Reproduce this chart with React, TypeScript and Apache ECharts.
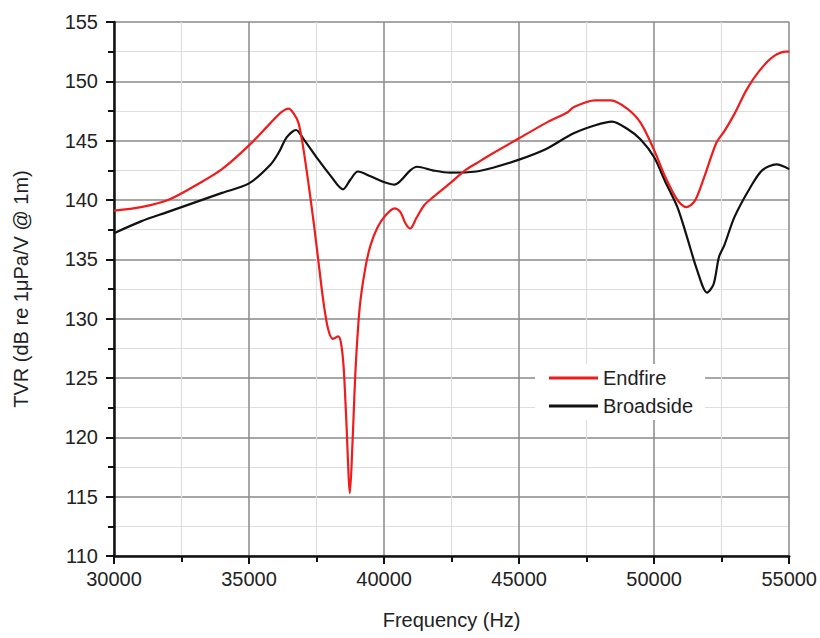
import React, { useEffect, useRef } from "react";
import * as echarts from "echarts";

const endfireFreq = [30000, 31000, 32000, 33000, 34000, 35000, 35800, 36200, 36465, 36650, 36830, 37000, 37200, 37400, 37560, 37750, 37930, 38100, 38300, 38400, 38500, 38600, 38736, 38830, 38950, 39100, 39300, 39500, 39760, 40050, 40385, 40600, 40800, 40970, 41200, 41500, 41850, 42436, 43000, 43425, 44000, 45000, 46000, 46800, 47000, 47800, 48400, 49000, 49500, 50000, 50400, 50860, 51190, 51500, 51850, 52300, 52600, 52985, 53425, 53900, 54420, 54900, 55000];
const endfireTVR = [139.1, 139.4, 140.0, 141.2, 142.6, 144.6, 146.5, 147.4, 147.7, 147.3, 146.5, 144.5, 141.4, 138.0, 135.0, 131.5, 129.1, 128.3, 128.5, 128.0, 126.0, 121.5, 115.3, 119.5, 126.0, 131.0, 134.2, 136.2, 137.7, 138.7, 139.3, 139.0, 138.0, 137.6, 138.5, 139.6, 140.3, 141.4, 142.5, 143.1, 143.9, 145.2, 146.5, 147.4, 147.8, 148.4, 148.4, 147.7, 146.5, 144.2, 142.0, 140.0, 139.4, 139.9, 141.9, 144.8, 145.8, 147.3, 149.3, 150.9, 152.1, 152.5, 152.5];

const broadsideFreq = [30000, 31000, 32000, 33000, 34000, 35000, 35800, 36100, 36400, 36740, 37000, 37564, 38000, 38480, 38750, 39030, 39500, 40018, 40385, 40600, 40970, 41227, 41800, 42436, 43425, 44000, 45000, 46000, 47000, 47820, 48443, 49000, 49500, 50000, 50400, 50860, 51200, 51590, 51960, 52200, 52400, 52600, 52980, 53570, 54000, 54530, 55000];
const broadsideTVR = [137.2, 138.2, 139.0, 139.8, 140.6, 141.4, 143.0, 144.0, 145.3, 145.9, 145.2, 143.4, 142.1, 140.9, 141.7, 142.4, 142.0, 141.5, 141.3, 141.6, 142.5, 142.8, 142.5, 142.3, 142.4, 142.7, 143.4, 144.3, 145.6, 146.3, 146.6, 146.0, 145.1, 143.6, 141.6, 139.4, 137.0, 134.1, 132.2, 132.9, 135.2, 136.2, 138.6, 141.1, 142.5, 143.0, 142.6];

const FONT = "Liberation Sans, Arial, sans-serif";

export default function App() {
  const ref = useRef<HTMLDivElement>(null);
  useEffect(() => {
    if (!ref.current) return;
    const chart = echarts.init(ref.current, undefined, { renderer: "svg" });
    const pair = (xs: number[], ys: number[]) => xs.map((x, i) => [x, ys[i]]);
    chart.setOption({
      animation: false,
      backgroundColor: "#ffffff",
      textStyle: { fontFamily: FONT },
      grid: { left: 114, right: 23, top: 22, bottom: 82 },
      legend: {
        left: 535,
        top: 364,
        orient: "vertical",
        icon: "rect",
        itemWidth: 49,
        itemHeight: 3,
        itemGap: 8,
        textStyle: { fontSize: 20, color: "#222", fontFamily: FONT },
        data: ["Endfire", "Broadside"],
        backgroundColor: "#ffffff",
        padding: [4, 12, 4, 14],
      },
      xAxis: {
        type: "value",
        min: 30000,
        max: 55000,
        interval: 5000,
        name: "Frequency (Hz)",
        nameLocation: "middle",
        nameGap: 54,
        nameTextStyle: { fontSize: 20, color: "#222", fontFamily: FONT },
        axisLine: { show: true, lineStyle: { color: "#111", width: 2.5 } },
        axisTick: { show: true, inside: false, length: 8, lineStyle: { color: "#111", width: 2 } },
        minorTick: { show: true, splitNumber: 2, length: 6, lineStyle: { color: "#111", width: 2 } },
        axisLabel: { fontSize: 20, color: "#222", margin: 13, fontFamily: FONT, formatter: (v: number) => String(v) },
        splitLine: { show: true, lineStyle: { color: "#8a8a8a", width: 1.5 } },
        minorSplitLine: { show: true, lineStyle: { color: "#dedede", width: 1.2 } },
      },
      yAxis: {
        type: "value",
        min: 110,
        max: 155,
        interval: 5,
        name: "TVR (dB re 1\u03bcPa/V @ 1m)",
        nameLocation: "middle",
        nameGap: 83,
        nameRotate: 90,
        nameTextStyle: { fontSize: 20, color: "#222", fontFamily: FONT },
        axisLine: { show: true, lineStyle: { color: "#111", width: 2.5 } },
        axisTick: { show: true, inside: false, length: 8, lineStyle: { color: "#111", width: 2 } },
        minorTick: { show: true, splitNumber: 2, length: 6, lineStyle: { color: "#111", width: 2 } },
        axisLabel: { fontSize: 20, color: "#222", margin: 16, fontFamily: FONT },
        splitLine: { show: true, lineStyle: { color: "#8a8a8a", width: 1.5 } },
        minorSplitLine: { show: true, lineStyle: { color: "#dedede", width: 1.2 } },
      },
      series: [
        {
          name: "Endfire",
          type: "line",
          data: pair(endfireFreq, endfireTVR),
          symbol: "none",
          smooth: 0.3,
          lineStyle: { color: "#ee1c1c", width: 2.2 },
          itemStyle: { color: "#ee1c1c" },
          z: 3,
        },
        {
          name: "Broadside",
          type: "line",
          data: pair(broadsideFreq, broadsideTVR),
          symbol: "none",
          smooth: 0.3,
          lineStyle: { color: "#111111", width: 2.2 },
          itemStyle: { color: "#111111" },
          z: 2,
        },
      ],
    });
    return () => chart.dispose();
  }, []);
  return <div ref={ref} style={{ width: 820, height: 638, position: "absolute", left: 0, top: 0 }} />;
}
